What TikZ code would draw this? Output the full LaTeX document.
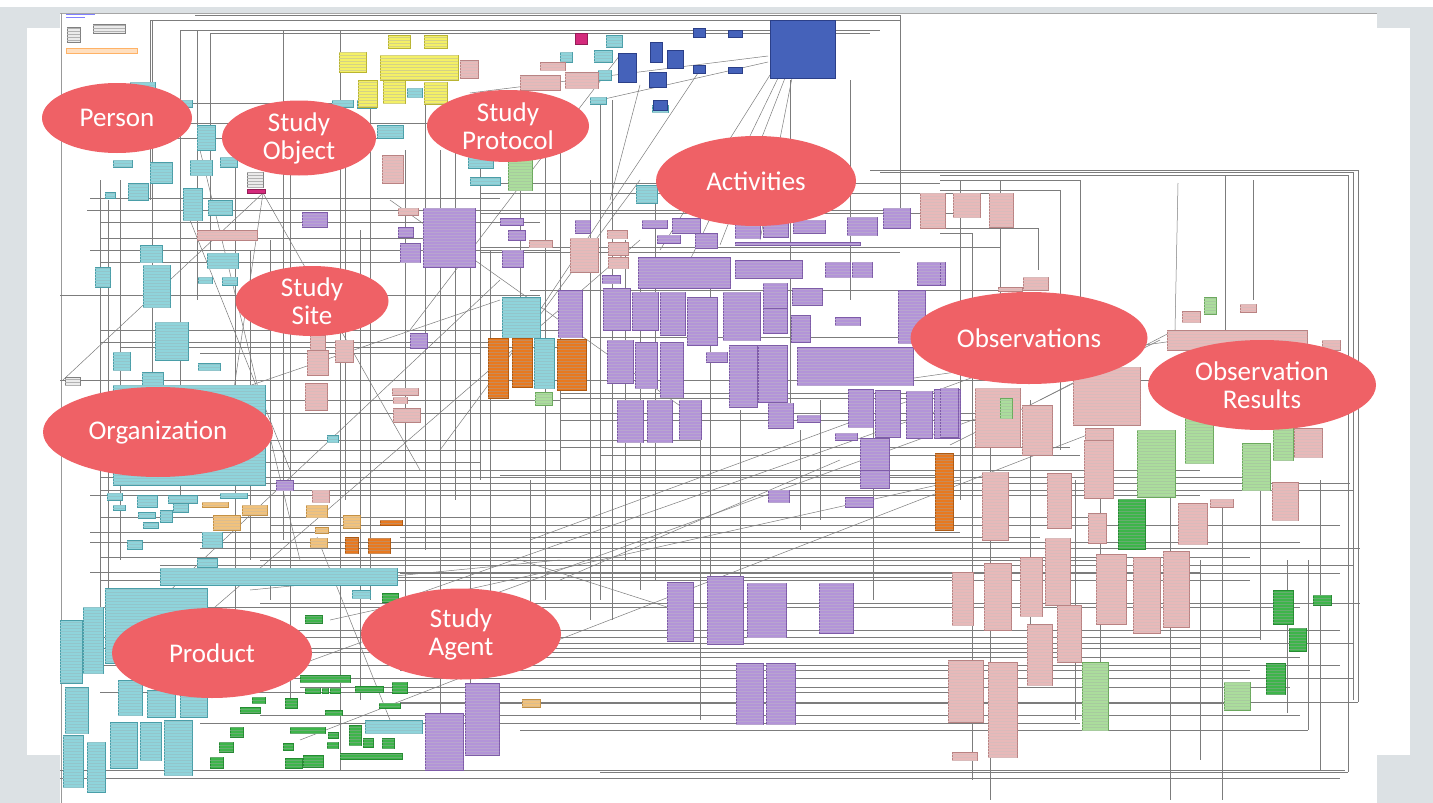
\documentclass[tikz,border=0pt]{standalone}
\usepackage{fontspec}
\setmainfont{Carlito}
\usetikzlibrary{shapes.geometric,patterns}

\definecolor{slate}{HTML}{DCE1E4}
\definecolor{wire}{HTML}{7C7C7C}
\definecolor{cyanF}{HTML}{8FD4DB}\definecolor{cyanD}{HTML}{4A9EA8}
\definecolor{purF}{HTML}{B394D8}\definecolor{purD}{HTML}{7E5CA8}
\definecolor{pinkF}{HTML}{E8B9B9}\definecolor{pinkD}{HTML}{B98383}
\definecolor{oraF}{HTML}{E8791F}\definecolor{oraD}{HTML}{B05A12}
\definecolor{tanF}{HTML}{F1C27C}\definecolor{tanD}{HTML}{C49145}
\definecolor{grnF}{HTML}{3DB54A}\definecolor{grnD}{HTML}{268A33}
\definecolor{lgrF}{HTML}{ABDD9C}\definecolor{lgrD}{HTML}{6CA95E}
\definecolor{yelF}{HTML}{F4F066}\definecolor{yelD}{HTML}{B9B432}
\definecolor{bluF}{HTML}{4562BA}\definecolor{bluD}{HTML}{2B3F88}
\definecolor{magF}{HTML}{D42A7C}
\definecolor{tag}{HTML}{EF6166}

\tikzset{
  umlbox/.style={line width=0.6pt},
  rows/.style={postaction={pattern=horizontal lines, pattern color=#1}},
  cy/.style={umlbox, fill=cyanF, draw=cyanD, rows=cyanD!60},
  pu/.style={umlbox, fill=purF, draw=purD, rows=purD!55},
  pk/.style={umlbox, fill=pinkF, draw=pinkD, rows=pinkD!55},
  og/.style={umlbox, fill=oraF, draw=oraD, rows=oraD!70},
  tn/.style={umlbox, fill=tanF, draw=tanD, rows=tanD!60},
  gr/.style={umlbox, fill=grnF, draw=grnD, rows=grnD!70},
  lg/.style={umlbox, fill=lgrF, draw=lgrD, rows=lgrD!60},
  ye/.style={umlbox, fill=yelF, draw=yelD, rows=yelD!60},
  bl/.style={umlbox, fill=bluF, draw=bluD},
  mg/.style={umlbox, fill=magF, draw=magF!70!black},
  pl/.style={umlbox, fill=white!92!black, draw=gray, rows=gray!60},
  wire/.style={draw=wire, line width=0.5pt},
  tagnode/.style={ellipse, fill=tag, text=white, inner sep=0pt, align=center,
    font=\fontsize{27}{28}\selectfont}
}

\begin{document}
\begin{tikzpicture}[x=1pt,y=-1pt]
\useasboundingbox (0,0) rectangle (1433,803);
% slide background and panels
\fill[slate] (0,7) rectangle (1433,803);
\fill[white] (27,28) rectangle (1410,755);
\fill[white] (60,13) rectangle (1377,803);
\draw[gray!70, line width=0.8pt] (60,13.5) -- (1377,13.5);
\draw[gray!80, line width=0.8pt] (61,13) -- (61,803);

% ---- connectors: horizontal runs (y / x1 / x2)
\foreach \y/\a/\b in {15/195/900, 20/150/900, 30/180/880, 33/210/870, 103/180/340,
  123/183/560, 138/100/380, 170/870/1358, 172/880/1353, 175/940/1348, 180/940/1080,
  183/480/940, 190/940/1060, 193/480/1000, 198/90/500, 210/87/900, 213/480/960,
  222/100/540, 228/940/1038, 233/940/972, 238/100/470, 247/480/1000, 250/90/560,
  252/480/900, 262/100/420, 290/530/1000, 295/60/540, 330/100/560, 337/590/900,
  342/100/500, 347/120/560, 353/200/480, 380/60/1160, 393/560/960, 398/560/940,
  400/100/560, 413/200/1000, 420/560/980, 440/140/700, 447/560/1070, 450/270/560,
  455/600/1080, 462/90/480, 470/270/1200, 475/500/940, 477/100/1250, 483/260/1350,
  490/100/1353, 495/90/1200, 517/100/1100, 525/270/1340, 532/90/960, 537/400/1040,
  542/90/1300, 548/200/1360, 557/100/1250, 560/260/1100, 565/160/1353, 572/90/1200,
  573/400/1340, 577/200/960, 580/100/1250, 603/260/1360, 607/100/1300, 630/200/1340,
  637/60/1260, 643/400/1353, 648/100/1200, 652/200/1080, 657/400/1300, 665/100/1340,
  670/400/1250, 678/200/1353, 687/300/1290, 692/100/960, 702/400/1358, 703/400/1240,
  715/260/1300, 723/200/1080, 730/520/1308, 770/60/1345, 772/600/1348, 778/60/1340}
  \draw[wire] (\a,\y) -- (\b,\y);

% ---- connectors: vertical runs (x / y1 / y2)
\foreach \x/\a/\b in {100/180/640, 108/200/600, 120/180/560, 150/20/200, 152/20/400,
  180/30/500, 197/30/300, 210/33/250, 235/150/640, 250/250/560, 270/240/600,
  283/30/540, 290/110/700, 340/30/770, 345/100/500, 360/230/700, 370/100/600,
  405/150/620, 425/100/550, 440/150/720, 455/100/500, 470/250/700, 480/100/480,
  490/250/620, 520/100/300, 530/480/640, 545/100/600, 560/100/470, 590/180/620,
  600/100/600, 612/100/620, 625/240/560, 640/260/590, 655/200/580, 700/400/720,
  710/280/580, 740/410/590, 790/80/420, 800/430/530, 820/400/520, 850/80/300,
  873/410/600, 900/15/210, 960/180/500, 972/233/780, 990/400/800, 1000/180/380,
  1030/400/680, 1038/228/270, 1060/190/450, 1075/480/720, 1080/180/370,
  1100/470/700, 1170/430/800, 1200/560/760, 1222/500/800, 1225/175/330,
  1253/180/300, 1260/480/640, 1287/560/713, 1308/560/730, 1320/480/770,
  1348/175/772, 1353/172/700, 1358/170/702}
  \draw[wire] (\x,\a) -- (\x,\b);

% ---- connectors: oblique runs
\foreach \a/\b/\c/\d in {263/193/63/380, 263/193/220/483, 263/193/420/470,
  200/150/300/560, 190/220/290/470, 700/70/520/340, 770/75/660/250, 778/78/690/260,
  785/78/720/245, 792/78/760/240, 768/56/470/93, 768/62/600/100, 620/55/410/330,
  640/85/610/200, 120/430/500/300, 230/690/1000/410, 300/740/1100/430,
  200/620/640/240, 160/600/500/280, 330/620/960/480, 400/600/940/410,
  530/540/1020/360, 560/580/840/460, 520/560/667/607, 317/537/390/720,
  440/450/640/180, 900/380/1180/340, 1040/400/1175/330, 950/445/1160/340,
  1178/183/1175/330, 250/590/560/560, 390/200/700/420}
  \draw[wire] (\a,\b) -- (\c,\d);

% ---- legend block, top left
\draw[pl] (93,24) rectangle (125,33);
\draw[pl] (67,27) rectangle (80,42);
\draw[umlbox, fill=orange!25, draw=orange!60] (66,48) rectangle (137,53);
\draw[blue!50, line width=0.8pt] (66,14) -- (95,14) (66,17) -- (85,17);

% ---- classes: cyan
\foreach \a/\b/\c/\d in {130/82/155/100, 182/100/192/107, 197/125/215/150,
  357/100/376/108, 332/100/353/107, 377/125/403/138, 407/88/422/97,
  113/160/132/167, 150/162/172/183, 190/160/212/175, 220/157/237/167,
  128/183/148/200, 105/192/115/198, 183/188/202/220, 208/200/232/215,
  140/245/162/262, 143/265/170/307, 95/267/110/287, 207/253/238/268,
  198/277/212/283, 222/277/237/285, 155/322/188/360, 113/352/130/370,
  142/372/163/385, 198/363/220/370, 238/390/253/397, 327/435/338/442,
  113/385/265/485, 468/155/493/168, 470/177/500/185, 636/185/657/203,
  502/297/540/337, 534/338/554/388, 107/493/122/500, 137/495/157/507,
  168/495/197/503, 113/505/125/510, 138/512/155/518, 160/510/172/522,
  173/503/188/512, 143/522/158/528, 220/493/247/498, 127/540/142/549,
  202/532/222/547, 197/558/217/567, 160/568/397/585, 105/588/207/663,
  352/590/370/598, 60/620/82/683, 83/607/103/673, 65/687/88/733,
  63/735/83/787, 87/742/105/792, 118/680/142/715, 147/690/175/717,
  180/683/207/717, 110/722/137/768, 140/722/161/760, 164/720/192/775,
  365/720/422/733, 606/35/622/47, 560/52/572/62, 594/50/612/62,
  598/70/611/80, 590/97/606/104, 652/105/668/112}
  \draw[cy] (\a,\b) rectangle (\c,\d);

% ---- classes: purple
\foreach \a/\b/\c/\d in {532/148/545/157, 302/212/327/227, 398/227/413/237,
  400/243/420/262, 423/208/475/267, 500/218/523/225, 508/230/525/240,
  502/250/523/267, 410/333/427/348, 575/220/590/233, 602/275/620/283,
  642/220/667/228, 672/218/700/233, 657/235/680/243, 695/233/717/248,
  735/223/760/238, 763/223/788/237, 793/220/825/233, 735/242/860/245,
  847/217/877/235, 883/208/910/228, 638/257/730/288, 735/260/802/278,
  825/262/850/277, 852/262/872/277, 917/262/943/285, 558/290/582/337,
  603/288/630/330, 632/292/658/330, 660/292/685/335, 687/297/717/345,
  723/292/760/340, 763/283/787/307, 763/308/787/333, 792/288/822/305,
  791/315/810/342, 835/317/860/325, 898/290/925/343, 607/340/633/383,
  635/342/657/388, 660/342/683/397, 706/352/727/362, 729/345/757/407,
  758/345/787/402, 797/347/913/385, 617/400/643/442, 647/400/672/442,
  679/400/701/439, 768/403/793/428, 797/415/820/422, 835/433/857/440,
  848/389/873/427, 875/390/900/437, 906/391/932/438, 934/389/960/438,
  860/438/889/480, 940/388/958/437, 276/480/293/490, 667/582/693/641,
  707/576/743/644, 747/583/786/637, 819/583/853/633, 736/663/763/724,
  766/663/795/724, 768/490/789/502, 845/497/873/507, 860/470/889/488,
  425/713/463/770, 465/683/499/755, 940/262/945/285}
  \draw[pu] (\a,\b) rectangle (\c,\d);

% ---- classes: pink
\foreach \a/\b/\c/\d in {382/155/403/183, 197/230/257/240, 398/208/418/215,
  310/335/325/350, 307/350/328/375, 335/340/353/362, 305/383/327/410,
  392/388/418/395, 393/397/407/403, 393/408/420/422, 529/240/552/247,
  570/238/598/272, 607/230/627/238, 608/242/628/255, 608/257/628/268,
  920/193/945/228, 953/193/980/217, 989/193/1013/227, 1023/277/1048/290,
  998/287/1022/291, 1182/311/1200/322, 1240/304/1256/312, 1167/330/1307/350,
  1322/340/1340/350, 1073/367/1140/425, 975/388/1020/447, 1022/405/1052/455,
  1085/428/1113/480, 1294/428/1322/457, 312/490/329/502, 982/472/1008/540,
  1047/473/1071/528, 1084/440/1113/498, 1088/513/1106/543, 1178/503/1207/544,
  1210/499/1233/507, 1272/482/1298/520, 952/572/973/625, 984/563/1011/630,
  1020/557/1042/616, 1045/538/1070/605, 1057/605/1081/662, 1027/624/1052/685,
  1096/554/1126/624, 1133/557/1160/633, 1163/551/1189/627, 948/660/983/722,
  988/662/1017/757, 952/752/977/760, 520/75/560/90, 565/72/598/88,
  540/62/565/70, 460/60/478/78}
  \draw[pk] (\a,\b) rectangle (\c,\d);

% ---- classes: orange and tan
\foreach \a/\b/\c/\d in {488/338/508/398, 512/338/532/387, 557/339/586/390,
  935/453/953/530, 345/537/358/553, 368/538/390/553, 380/520/402/525}
  \draw[og] (\a,\b) rectangle (\c,\d);
\foreach \a/\b/\c/\d in {202/502/228/507, 213/515/240/530, 242/505/267/515,
  306/505/327/517, 315/527/328/533, 343/515/360/528, 310/538/327/547,
  522/699/540/707}
  \draw[tn] (\a,\b) rectangle (\c,\d);

% ---- classes: green and light green
\foreach \a/\b/\c/\d in {305/615/322/623, 300/675/350/682, 305/688/320/693,
  322/688/328/693, 330/688/340/693, 355/686/383/692, 392/682/407/693,
  252/697/265/703, 240/707/260/713, 285/698/297/708, 325/710/342/715,
  379/703/400/708, 230/727/243/737, 290/727/325/733, 328/732/338/738,
  349/725/361/745, 363/738/373/747, 382/738/394/748, 219/742/233/752,
  283/743/293/750, 327/742/338/748, 340/753/402/759, 210/757/223/768,
  285/758/302/768, 303/755/323/767, 382/593/398/602, 1118/499/1145/549,
  1273/590/1293/624, 1313/595/1331/605, 1289/628/1306/651, 1266/663/1285/694}
  \draw[gr] (\a,\b) rectangle (\c,\d);
\foreach \a/\b/\c/\d in {508/160/532/190, 1204/297/1216/314, 1000/398/1012/418,
  1137/430/1175/497, 1185/417/1213/463, 1242/443/1270/490, 1273/427/1293/460,
  1224/682/1250/710, 1082/662/1108/730, 535/392/552/405}
  \draw[lg] (\a,\b) rectangle (\c,\d);

% ---- classes: yellow, blue, magenta, plain
\foreach \a/\b/\c/\d in {388/35/410/48, 424/35/447/48, 339/52/366/72,
  380/55/458/80, 358/80/377/107, 383/80/405/103, 424/82/447/104}
  \draw[ye] (\a,\b) rectangle (\c,\d);
\foreach \a/\b/\c/\d in {770/20/835/78, 693/28/705/37, 728/30/742/37,
  693/65/705/73, 728/67/742/73, 618/53/636/82, 650/42/662/62, 667/50/683/68,
  649/72/666/87, 653/100/667/110}
  \draw[bl] (\a,\b) rectangle (\c,\d);
\draw[mg] (575,33) rectangle (587,44);
\draw[mg] (247,189) rectangle (265,193);
\draw[pl] (247,172) rectangle (263,187);
\draw[pl] (65,377) rectangle (80,385);

% ---- package labels
\node[tagnode, minimum width=150pt, minimum height=70pt] (person) at (117,118) {Person};
\node[tagnode, minimum width=154pt, minimum height=75pt] (object) at (299,138) {Study\\Object};
\node[tagnode, minimum width=162pt, minimum height=72pt] (protocol) at (508,126) {Study\\Protocol};
\node[tagnode, minimum width=200pt, minimum height=90pt] (activities) at (756,181) {Activities};
\node[tagnode, minimum width=153pt, minimum height=70pt] (site) at (312,301) {Study\\Site};
\node[tagnode, minimum width=237pt, minimum height=92pt] (observations) at (1029,338) {Observations};
\node[tagnode, minimum width=228pt, minimum height=90pt] (results) at (1262,385) {Observation\\Results};
\node[tagnode, minimum width=230pt, minimum height=90pt] (organization) at (158,432) {Organization};
\node[tagnode, minimum width=200pt, minimum height=90pt] (product) at (212,653) {Product};
\node[tagnode, minimum width=200pt, minimum height=91pt] (agent) at (461,634) {Study\\Agent};
\end{tikzpicture}
\end{document}
